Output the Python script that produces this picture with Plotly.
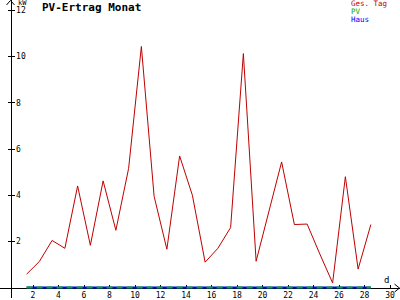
import plotly.graph_objects as go

# ---- data ----
days = list(range(1, 29))
ges_tag = [0.58, 1.13, 2.04, 1.70, 4.40, 1.83, 4.62, 2.48, 5.16, 10.44,
           3.95, 1.66, 5.70, 4.00, 1.10, 1.70, 2.60, 10.13, 1.14, 3.30,
           5.44, 2.73, 2.75, 1.45, 0.20, 4.80, 0.80, 2.73]
pv = [0.0] * 28
haus = [0.0] * 28
x_tickvals = list(range(2, 31, 2))
x_ticktext = [str(v) for v in x_tickvals]
y_tickvals = [2, 4, 6, 8, 10, 12]
y_ticktext = [str(v) for v in y_tickvals]
title_text = "PV-Ertrag Monat"
legend_names = ["Ges. Tag", "PV", "Haus"]
legend_colors = ["#c00000", "#00b000", "#0000ff"]

W, H = 400, 300
PX0, PXD = 7.5, 12.75      # pixel of day 0, pixels per day
PY0, PYU = 289.5, 23.25    # pixel of 0 kW, pixels per kW
xr = [-PX0 / PXD, (W - PX0) / PXD]
yr = [-(H - PY0) / PYU, PY0 / PYU]

xpos = [d + 0.5 for d in days]   # values drawn at centre of each day

FONT = "DejaVu Sans Mono"

fig = go.Figure()
fig.add_trace(go.Scatter(x=xpos, y=haus, mode="lines",
                         line=dict(color=legend_colors[2], width=2),
                         name=legend_names[2]))
fig.add_trace(go.Scatter(x=xpos, y=pv, mode="lines",
                         line=dict(color=legend_colors[1], width=2, dash="6px,4px"),
                         name=legend_names[1]))
fig.add_trace(go.Scatter(x=xpos, y=ges_tag, mode="lines",
                         line=dict(color=legend_colors[0], width=1),
                         name=legend_names[0]))

def px(x):
    return x / W

def py(y):
    return 1 - y / H

shapes = [
    # y-axis arrow head
    dict(type="path", xref="paper", yref="paper",
         path=f"M{px(6.5)},{py(5)} L{px(10.5)},{py(0.5)} L{px(14.5)},{py(5)}",
         line=dict(color="black", width=1)),
    # x-axis arrow head
    dict(type="path", xref="paper", yref="paper",
         path=f"M{px(394.5)},{py(286)} L{px(399.5)},{py(290)} L{px(394.5)},{py(294)}",
         line=dict(color="black", width=1)),
]

annotations = [
    dict(text=f"<b>{title_text}</b>", xref="paper", yref="paper",
         x=px(40), y=py(7.5), xanchor="left", yanchor="middle",
         showarrow=False, font=dict(family=FONT, size=11, color="black")),
    dict(text="kW", xref="paper", yref="paper", x=px(15.5), y=py(3.5),
         xanchor="left", yanchor="middle", showarrow=False,
         font=dict(family=FONT, size=7, color="black")),
    dict(text="d", xref="paper", yref="paper", x=px(386.5), y=py(281.5),
         xanchor="center", yanchor="middle", showarrow=False,
         font=dict(family=FONT, size=9, color="black")),
]
for i, (name, col) in enumerate(zip(legend_names, legend_colors)):
    annotations.append(dict(text=name, xref="paper", yref="paper",
                            x=px(349), y=py(4 + 8 * i),
                            xanchor="left", yanchor="middle", showarrow=False,
                            font=dict(family=FONT, size=7.5, color=col)))

fig.update_layout(
    width=W, height=H,
    margin=dict(l=0, r=0, t=0, b=0, pad=0),
    paper_bgcolor="white", plot_bgcolor="white",
    showlegend=False,
    shapes=shapes, annotations=annotations,
    xaxis=dict(range=xr, anchor="free", position=(H - PY0) / H,
               showline=True, linecolor="black", linewidth=1,
               showgrid=False, zeroline=False, layer="below traces",
               tickmode="array", tickvals=x_tickvals, ticktext=x_ticktext,
               ticks="inside", ticklen=3, tickcolor="black", tickwidth=1,
               tickfont=dict(family=FONT, size=8, color="black")),
    yaxis=dict(range=yr, anchor="free", position=10.5 / W, side="right",
               showline=True, linecolor="black", linewidth=1,
               showgrid=False, zeroline=False, layer="below traces",
               tickmode="array", tickvals=y_tickvals, ticktext=y_ticktext,
               ticks="outside", ticklen=3, tickcolor="black", tickwidth=1,
               tickfont=dict(family=FONT, size=8, color="black")),
    yaxis2=dict(range=yr, overlaying="y", anchor="free", position=10.5 / W,
                side="left", showline=False, showgrid=False, zeroline=False,
                tickmode="array", tickvals=y_tickvals,
                ticks="outside", ticklen=3, tickcolor="black", tickwidth=1,
                showticklabels=False),
)
# invisible trace so that yaxis2 (left half of the tick crosses) is drawn
fig.add_trace(go.Scatter(x=[xpos[0]], y=[0], yaxis="y2", mode="markers",
                         marker=dict(opacity=0), hoverinfo="skip", showlegend=False))

fig.write_html("out.html")
